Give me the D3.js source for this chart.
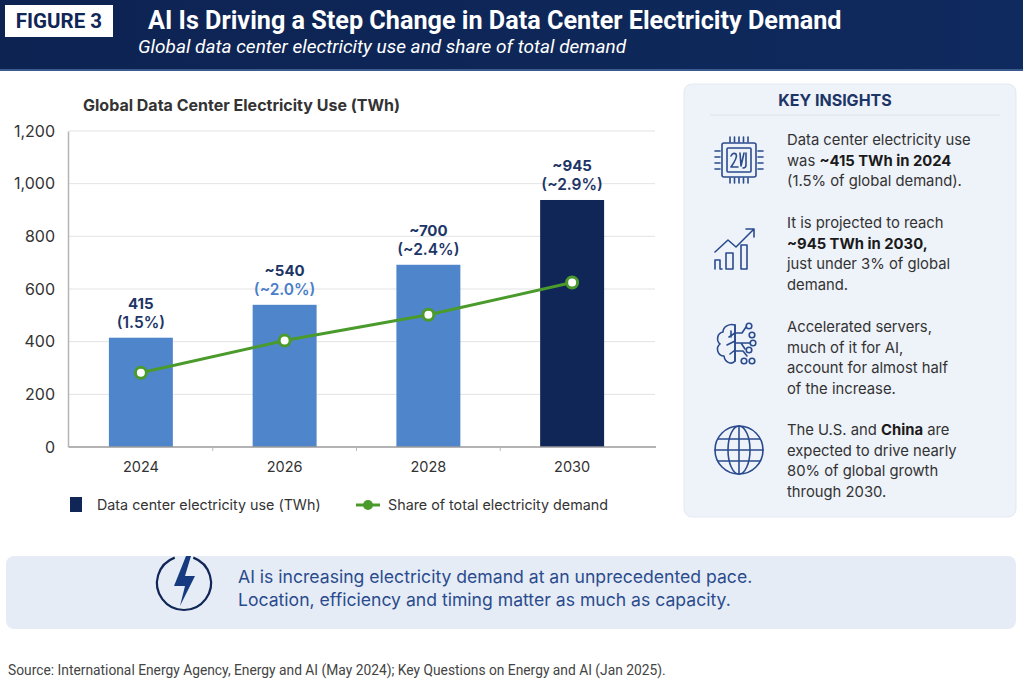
<!DOCTYPE html>
<html><head><meta charset="utf-8">
<script src="https://cdn.jsdelivr.net/npm/d3@7"></script>
<style>
html,body{margin:0;padding:0;background:#fff;}
svg{display:block;}
</style></head>
<body><svg id="c" width="1023" height="687"></svg>
<script>
// ---- data ----
const years = ["2024", "2026", "2028", "2030"];
const useTWh = [415, 540, 692, 938];
const sharePct = [1.5, 2.0, 2.4, 2.9];
const valueLabels = ["415", "~540", "~700", "~945"];
const shareLabels = ["(1.5%)", "(~2.0%)", "(~2.4%)", "(~2.9%)"];
const yTicks = [0, 200, 400, 600, 800, 1000, 1200];
const legendLabels = ["Data center electricity use (TWh)", "Share of total electricity demand"];
const insights = [
  [[["Data center electricity use",0]],[["was ",0],["~415 TWh in 2024",1]],[["(1.5% of global demand).",0]]],
  [[["It is projected to reach",0]],[["~945 TWh in 2030,",1]],[["just under 3% of global",0]],[["demand.",0]]],
  [[["Accelerated servers,",0]],[["much of it for AI,",0]],[["account for almost half",0]],[["of the increase.",0]]],
  [[["The U.S. and ",0],["China",1],[" are",0]],[["expected to drive nearly",0]],[["80% of global growth",0]],[["through 2030.",0]]]
];

const svg = d3.select("#c");
const NAVY = "#0f2657", BLUE = "#4f86cb", GREEN = "#4a9a2c", TXT = "#333";
const F = "Inter, 'Open Sans', sans-serif";

// ---- header ----
const hg = svg.append("defs").append("linearGradient").attr("id","hg").attr("x1",0).attr("x2",1);
hg.append("stop").attr("offset",0).attr("stop-color","#0d2352");
hg.append("stop").attr("offset",1).attr("stop-color","#0f2a5e");
svg.append("rect").attr("x",0).attr("y",0).attr("width",1023).attr("height",71).attr("fill","url(#hg)");
svg.append("rect").attr("x",0).attr("y",69).attr("width",1023).attr("height",2).attr("fill","#3d5a8e");
svg.append("rect").attr("x",5).attr("y",5).attr("width",108).attr("height",32).attr("fill","#fff");
svg.append("text").attr("x",59).attr("y",28).attr("text-anchor","middle").attr("font-family","Roboto, sans-serif")
  .attr("font-weight",700).attr("font-size",20.5).attr("fill",NAVY).text("FIGURE 3");
svg.append("text").attr("x",148).attr("y",29).attr("font-family","Roboto, sans-serif")
  .attr("font-weight",700).attr("font-size",25.2).attr("fill","#fff").text("AI Is Driving a Step Change in Data Center Electricity Demand");
svg.append("text").attr("x",138).attr("y",53).attr("font-family","Roboto, sans-serif").attr("font-style","italic")
  .attr("font-size",19).attr("fill","#fff").text("Global data center electricity use and share of total demand");

// ---- chart ----
const x = d3.scaleBand().domain(years).range([69,644]).paddingInner(0.555).paddingOuter(0.2775);
const y = d3.scaleLinear().domain([0,1200]).range([447,131]);
const y2 = d3.scaleLinear().domain([0.35,5.25]).range([447,131]);

svg.append("text").attr("x",83).attr("y",111).attr("font-family",F).attr("font-weight",700)
  .attr("font-size",16).attr("fill",TXT).text("Global Data Center Electricity Use (TWh)");

const g = svg.append("g");
g.selectAll(".grid").data(yTicks.slice(1)).join("line")
  .attr("x1",69).attr("x2",655).attr("y1",d=>y(d)).attr("y2",d=>y(d))
  .attr("stroke","#e3e3e3").attr("stroke-width",1);

const ya = g.append("g").attr("transform","translate(68,0)")
  .call(d3.axisLeft(y).tickValues(yTicks).tickFormat(d3.format(",")).tickSize(0).tickPadding(13));
ya.select(".domain").attr("stroke","#b5b5b5").attr("stroke-width",1.5);
ya.selectAll("text").attr("font-family",F).attr("font-size",16).attr("fill",TXT);

g.selectAll(".bar").data(years).join("rect")
  .attr("x",d=>x(d)).attr("width",x.bandwidth())
  .attr("y",(d,i)=>y(useTWh[i])).attr("height",(d,i)=>y(0)-y(useTWh[i]))
  .attr("fill",(d,i)=>i===years.length-1?NAVY:BLUE);

const xa = g.append("g").attr("transform","translate(0,447)")
  .call(d3.axisBottom(x).tickSize(0).tickPadding(15));
xa.select(".domain").attr("stroke","#9a9a9a").attr("stroke-width",1.5).attr("d","M69,0H656");
xa.selectAll("text").attr("font-family",F).attr("font-size",14.5).attr("fill",TXT);
// boundary ticks between bands
g.selectAll(".bt").data(years.slice(1)).join("line")
  .attr("x1",d=>x(d)-x.step()*x.paddingInner()/2).attr("x2",d=>x(d)-x.step()*x.paddingInner()/2)
  .attr("y1",447).attr("y2",451).attr("stroke","#bbb");

// value labels
g.selectAll(".vl").data(years).join("text")
  .attr("x",d=>x(d)+x.bandwidth()/2).attr("y",(d,i)=>y(useTWh[i])-29)
  .attr("text-anchor","middle").attr("font-family",F).attr("font-weight",700).attr("font-size",15)
  .attr("fill","#1d3566").text((d,i)=>valueLabels[i]);
g.selectAll(".sl").data(years).join("text")
  .attr("x",d=>x(d)+x.bandwidth()/2).attr("y",(d,i)=>y(useTWh[i])-10)
  .attr("text-anchor","middle").attr("font-family",F).attr("font-weight",600).attr("font-size",15.5)
  .attr("fill",(d,i)=>i===1?"#4a7fc8":"#1d3566").text((d,i)=>shareLabels[i]);

// line
const line = d3.line().x((d,i)=>x(years[i])+x.bandwidth()/2).y(d=>y2(d));
g.append("path").datum(sharePct).attr("d",line).attr("fill","none").attr("stroke",GREEN).attr("stroke-width",3);
g.selectAll(".pt").data(sharePct).join("circle")
  .attr("cx",(d,i)=>x(years[i])+x.bandwidth()/2).attr("cy",d=>y2(d)).attr("r",5.5)
  .attr("fill","#fff").attr("stroke",GREEN).attr("stroke-width",3);

// legend
svg.append("rect").attr("x",70).attr("y",497).attr("width",12).attr("height",15).attr("fill",NAVY);
svg.append("text").attr("x",97).attr("y",510).attr("font-family",F).attr("font-size",14.3).attr("fill",TXT).text(legendLabels[0]);
svg.append("line").attr("x1",356).attr("x2",380).attr("y1",505).attr("y2",505).attr("stroke",GREEN).attr("stroke-width",3);
svg.append("circle").attr("cx",368).attr("cy",505).attr("r",5).attr("fill",GREEN);
svg.append("text").attr("x",388).attr("y",510).attr("font-family",F).attr("font-size",14.3).attr("fill",TXT).text(legendLabels[1]);

// ---- key insights panel ----
svg.append("rect").attr("x",684).attr("y",84).attr("width",332).attr("height",433).attr("rx",8)
  .attr("fill","#eef2f9").attr("stroke","#e4e9f2");
svg.append("text").attr("x",835).attr("y",106).attr("text-anchor","middle").attr("font-family",F)
  .attr("font-weight",700).attr("font-size",16).attr("fill","#1d3566").text("KEY INSIGHTS");
svg.append("line").attr("x1",710).attr("x2",1000).attr("y1",115).attr("y2",115).attr("stroke","#dde3ee");

const itemTop = [145, 228, 332, 435];
insights.forEach((lines, k) => {
  lines.forEach((segs, j) => {
    const t = svg.append("text").attr("x",787).attr("y",itemTop[k]+j*20.5)
      .attr("font-family",F).attr("font-size",14.8).attr("fill",TXT);
    segs.forEach(s => t.append("tspan").attr("font-weight",s[1]?700:400).attr("fill",s[1]?"#1a1a1a":TXT).text(s[0]));
  });
});

const IC = "#2a4b8d";
const ic = svg.append("g").attr("fill","none").attr("stroke",IC).attr("stroke-width",1.6).attr("stroke-linecap","round").attr("stroke-linejoin","round");
// chip icon
const chip = ic.append("g").attr("transform","translate(739,160)");
chip.append("rect").attr("x",-17).attr("y",-17).attr("width",34).attr("height",34).attr("rx",2);
chip.append("rect").attr("x",-12).attr("y",-12).attr("width",24).attr("height",24).attr("rx",1);
[-9,-4.5,0,4.5,9].forEach(p=>{
  chip.append("line").attr("x1",p).attr("x2",p).attr("y1",-23).attr("y2",-18);
  chip.append("line").attr("x1",p).attr("x2",p).attr("y1",18).attr("y2",23);
});
[-9,-3,3,9].forEach(p=>{
  chip.append("line").attr("y1",p).attr("y2",p).attr("x1",-24).attr("x2",-19);
  chip.append("line").attr("y1",p).attr("y2",p).attr("x1",19).attr("x2",24);
});
chip.append("path").attr("d","M-8,-4 Q-6,-8 -3,-6 Q-1,-3 -8,7 H-1 M1,-7 L2,6 L5,-7 M7,-7 V5 Q7,8 4,8");
// growth icon
const gr = ic.append("g").attr("transform","translate(739,248)");
gr.append("path").attr("d","M-24,21 V12 H-19 V21 H-17");
gr.append("path").attr("d","M-13,21 V5 H-6 V21 Z");
gr.append("path").attr("d","M2,21 V-3 H8 V21 Z");
gr.append("path").attr("d","M-24,4 L-11,-8 L-3,-1 L15,-19 M7,-19 H15 V-11");
// brain icon
const br = ic.append("g").attr("transform","translate(737,345)");
br.append("path").attr("d","M-2,-20 C-8,-22 -14,-18 -14,-13 C-20,-12 -21,-4 -17,-1 C-22,3 -19,11 -13,11 C-12,18 -5,20 -2,16 Z");
br.append("path").attr("d","M-2,-12 L-8,-8 M-2,-4 L-10,0 M-2,5 L-7,9 M-6,-14 L-6,-8");
br.append("path").attr("d","M-2,-20 V16");
br.append("path").attr("d","M-2,-12 H5 L9,-18 M-2,-2 H13 M-2,6 H6 L10,11 M4,-2 L8,4");
[[12,-19],[15,-10],[16,-2],[12,5],[7,16],[15,16]].forEach(c=>br.append("circle").attr("cx",c[0]).attr("cy",c[1]).attr("r",2.8));
// globe icon
const gl = ic.append("g").attr("transform","translate(739,450)");
gl.append("circle").attr("r",24);
gl.append("ellipse").attr("rx",11).attr("ry",24);
gl.append("line").attr("y1",-24).attr("y2",24);
gl.append("line").attr("x1",-24).attr("x2",24);
gl.append("path").attr("d","M-21,-11 H21 M-21,11 H21");

// ---- bottom banner ----
svg.append("rect").attr("x",6).attr("y",556).attr("width",1010).attr("height",73).attr("rx",8).attr("fill","#e6ecf6");
const bolt = svg.append("g").attr("transform","translate(184,583)");
bolt.append("path").attr("d",d3.arc()({innerRadius:27,outerRadius:27,startAngle:0.35,endAngle:Math.PI*2-0.35}))
  .attr("fill","none").attr("stroke",NAVY).attr("stroke-width",2.2);
bolt.append("path").attr("d","M2,-27 L-10,3 H1 L-4,23 L11,-7 H1 L7,-27 Z").attr("fill","#163a80");
svg.append("text").attr("x",238).attr("y",583).attr("font-family",F).attr("font-size",17.6).attr("fill","#2a4b8d")
  .text("AI is increasing electricity demand at an unprecedented pace.");
svg.append("text").attr("x",238).attr("y",606).attr("font-family",F).attr("font-size",17.6).attr("fill","#2a4b8d")
  .text("Location, efficiency and timing matter as much as capacity.");

// ---- source ----
svg.append("text").attr("x",8).attr("y",675).attr("font-family","Roboto, sans-serif").attr("font-size",13.8).attr("fill","#444")
  .text("Source: International Energy Agency, Energy and AI (May 2024); Key Questions on Energy and AI (Jan 2025).");
</script>
</body></html>
